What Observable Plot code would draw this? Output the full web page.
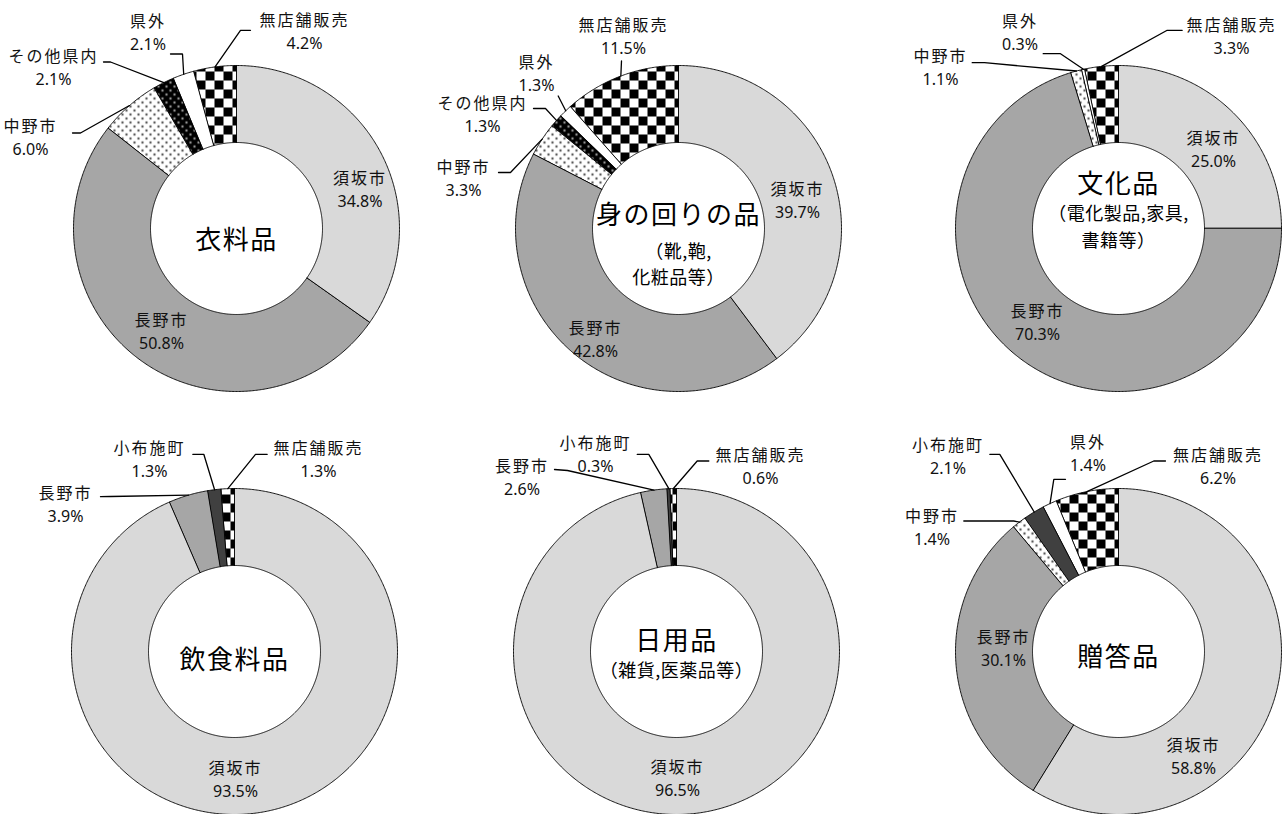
<!DOCTYPE html>
<html><head><meta charset="utf-8">
<script src="https://cdn.jsdelivr.net/npm/d3@7"></script>
<script src="https://cdn.jsdelivr.net/npm/@observablehq/plot@0.6"></script>
<style>
html,body{margin:0;padding:0;background:#fff;overflow:hidden;}
#wrap{position:relative;width:1285px;height:814px;overflow:hidden;}
.cell{position:absolute;}
.cell svg{max-width:none !important;}
</style></head><body>
<svg width="0" height="0" style="position:absolute;left:0;top:0">
<defs>
<pattern id="dotsLight" patternUnits="userSpaceOnUse" width="8" height="8">
<rect width="8" height="8" fill="#fff"/>
<circle cx="2" cy="2" r="1.2" fill="#555"/>
<circle cx="6" cy="6" r="1.2" fill="#555"/>
</pattern>
<pattern id="dotsDark" patternUnits="userSpaceOnUse" width="8" height="8">
<rect width="8" height="8" fill="#000"/>
<circle cx="2" cy="2" r="1.2" fill="#999"/>
<circle cx="6" cy="6" r="1.2" fill="#999"/>
</pattern>
<pattern id="checker" patternUnits="userSpaceOnUse" width="18" height="18">
<rect width="18" height="18" fill="#fff"/>
<rect width="9" height="9" fill="#000"/>
<rect x="9" y="9" width="9" height="9" fill="#000"/>
</pattern>
</defs>
</svg>
<div id="wrap"></div>
<script>
// ---- data ----
const charts = ["衣料品", "身の回りの品", "文化品", "飲食料品", "日用品", "贈答品"];
const subtitles = [[], ["（靴,鞄,", "化粧品等）"], ["（電化製品,家具,", "書籍等）"], [], ["（雑貨,医薬品等）"], []];
const categories = ["須坂市", "長野市", "中野市", "その他県内", "小布施町", "県外", "無店舗販売"];
const suzaka  = [34.8, 39.7, 25.0, 93.5, 96.5, 58.8];
const nagano  = [50.8, 42.8, 70.3, 3.9, 2.6, 30.1];
const nakano  = [6.0, 3.3, 1.1, 0, 0, 1.4];
const sonota  = [2.1, 1.3, 0, 0, 0, 0];
const obuse   = [0, 0, 0, 1.3, 0.3, 2.1];
const kengai  = [2.1, 1.3, 0.3, 0, 0, 1.4];
const mutenpo = [4.2, 11.5, 3.3, 1.3, 0.6, 6.2];
const seriesByCat = {"須坂市": suzaka, "長野市": nagano, "中野市": nakano, "その他県内": sonota, "小布施町": obuse, "県外": kengai, "無店舗販売": mutenpo};

// ---- layout (pixels) ----
const centers = [[236, 227.5], [678, 227.5], [1118, 227.5], [234, 650.5], [676, 650.5], [1118, 650.5]];
const R = 163, r0 = 86, W = 440, H = 440;
const fills = {"須坂市": "#d9d9d9", "長野市": "#a6a6a6", "中野市": "url(#dotsLight)", "その他県内": "url(#dotsDark)", "小布施町": "#404040", "県外": "#ffffff", "無店舗販売": "url(#checker)"};
// label name-line centre [dx,dy]; for outside labels also leader end [ex,ey] and elbow [bx,by]
const labelLayout = [
  {"須坂市": [123.5, -50], "長野市": [-75, 92.5],
   "中野市": [-206, -101.5, -164, -95.5, -156, -95.5],
   "その他県内": [-183, -172, -133, -166.5, -126, -166.5],
   "県外": [-88.5, -207, -66, -174.5, -54, -174.5],
   "無店舗販売": [68, -208, 14, -198.2, 4, -198.2]},
  {"須坂市": [119, -38.5], "長野市": [-83, 100.5],
   "中野市": [-215, -61, -180, -56, -168, -56],
   "その他県内": [-196, -125, -145, -120, -133, -120],
   "県外": [-142, -166, -120.3, -132.5, -120.3, -132.5],
   "無店舗販売": [-55, -202.5, -57, -167.5, -57, -167.5]},
  {"須坂市": [95, -90], "長野市": [-81, 83.5],
   "中野市": [-178, -172, -146.3, -165.8, -134, -165.8],
   "県外": [-98.5, -207, -75.3, -174.8, -58, -174.8],
   "無店舗販売": [113, -202.5, 63.7, -198.2, 48.7, -198.2]},
  {"須坂市": [1, 117.5],
   "長野市": [-169, -158, -134, -154.8, -124, -155],
   "小布施町": [-85, -203, -41.7, -197.2, -30.7, -197.2],
   "無店舗販売": [84, -203, 32.7, -197.2, 21, -197.2]},
  {"須坂市": [1, 116.5],
   "長野市": [-154.5, -185, -122, -182, -109, -181],
   "小布施町": [-81, -208, -39.3, -197.2, -27.7, -197.2],
   "無店舗販売": [84, -196, 32.3, -190.5, 20.7, -190.5]},
  {"須坂市": [75, 94.5], "長野市": [-115, -13.5],
   "中野市": [-186.5, -135, -154.7, -130.5, -104.7, -130.5],
   "小布施町": [-170.5, -206, -128.7, -197.2, -118.7, -197.2],
   "県外": [-30.5, -209, -53, -172.2, -64.7, -172.2],
   "無店舗販売": [99.5, -196, 47, -190.5, 35.3, -190.5]}
];
const titleLayout = [[12.5], [-12.5, 24, 49.5], [-43.5, -14.5, 12.5], [9.5], [-9.5, 19.5], [6.5]];

const fmt = d3.format(".1f");
const wrap = document.getElementById("wrap");

charts.forEach((name, k) => {
  const vals = categories.map(c => seriesByCat[c][k]);
  const total = d3.sum(vals);
  let acc = 0;
  const slices = [];
  categories.forEach((c, j) => {
    const v = vals[j];
    if (!v) return;
    const a0 = acc / total * 2 * Math.PI, a1 = (acc + v) / total * 2 * Math.PI;
    acc += v;
    const n = Math.max(2, Math.ceil((a1 - a0) / (Math.PI / 360)));
    const pts = [];
    for (let i = 0; i <= n; i++) { const a = a0 + (a1 - a0) * i / n; pts.push({cat: c, x: R * Math.sin(a), y: -R * Math.cos(a)}); }
    for (let i = n; i >= 0; i--) { const a = a0 + (a1 - a0) * i / n; pts.push({cat: c, x: r0 * Math.sin(a), y: -r0 * Math.cos(a)}); }
    slices.push({cat: c, value: v, mid: (a0 + a1) / 2, pts});
  });

  const labels = [], leaders = [];
  slices.forEach(s => {
    const L = labelLayout[k][s.cat];
    if (!L) return;
    labels.push({name: s.cat, value: fmt(s.value) + "%", x: L[0], y: L[1], vy: L[1] + 23});
    if (L.length > 2) {
      leaders.push({cat: s.cat, x: R * Math.sin(s.mid), y: -R * Math.cos(s.mid)});
      leaders.push({cat: s.cat, x: L[4], y: L[5]});
      leaders.push({cat: s.cat, x: L[2], y: L[3]});
    }
  });

  const tl = titleLayout[k];
  const titles = [{t: name, y: tl[0]}];
  const subs = subtitles[k].map((t, i) => ({t, y: tl[i + 1]}));

  const plot = Plot.plot({
    width: W, height: H, margin: 0,
    x: {domain: [-W / 2, W / 2], range: [0, W], axis: null},
    y: {domain: [-H / 2, H / 2], range: [0, H], axis: null},
    style: {background: "transparent", overflow: "visible", fontFamily: "'Noto Sans', 'Noto Sans CJK JP', sans-serif", color: "#111"},
    marks: [
      ...slices.map(s => Plot.line(s.pts, {x: "x", y: "y", fill: fills[s.cat], stroke: "#000", strokeWidth: 0.9, curve: "linear-closed"})),
      Plot.line(leaders, {x: "x", y: "y", z: "cat", stroke: "#000", strokeWidth: 1.3, strokeLinejoin: "miter"}),
      Plot.text(labels, {x: "x", y: "y", text: "name", fontSize: 16, fill: "#111", fontFamily: "'Noto Sans CJK JP', sans-serif"}),
      Plot.text(labels, {x: "x", y: "vy", text: "value", fontSize: 16, fill: "#111"}),
      Plot.text(titles, {x: 0, y: "y", text: "t", fontSize: 26, fill: "#000", fontFamily: "'Noto Sans CJK JP', sans-serif"}),
      Plot.text(subs, {x: 0, y: "y", text: "t", fontSize: 18, fill: "#000", fontFamily: "'Noto Sans CJK JP', sans-serif"})
    ]
  });
  // letter spacing for Japanese names and titles (Meiryo-like spacing)
  const groups = plot.querySelectorAll('g[aria-label="text"]');
  if (groups[0]) groups[0].style.letterSpacing = "2px";
  if (groups[2]) groups[2].style.letterSpacing = "1.5px";
  if (groups[3]) groups[3].style.letterSpacing = "0.5px";
  const div = document.createElement("div");
  div.className = "cell";
  div.style.left = (centers[k][0] - W / 2) + "px";
  div.style.top = (centers[k][1] - H / 2) + "px";
  div.style.width = W + "px";
  div.appendChild(plot);
  wrap.appendChild(div);
});
</script>
</body></html>
